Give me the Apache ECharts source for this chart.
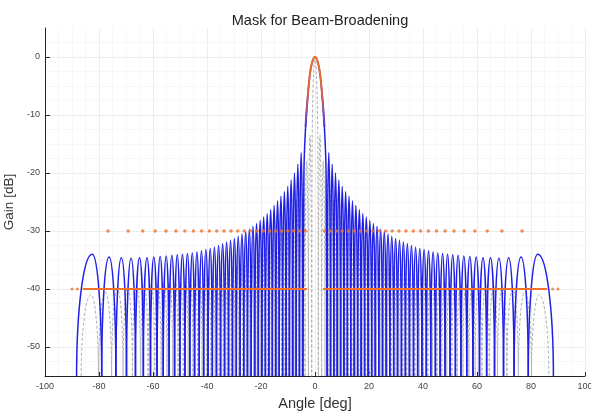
<!DOCTYPE html>
<html>
<head>
<meta charset="utf-8">
<script src="https://cdn.jsdelivr.net/npm/echarts@6/dist/echarts.min.js"></script>
<style>
html, body { margin: 0; padding: 0; background: #fff; }
#chart { width: 591px; height: 412px; }
</style>
</head>
<body>
<div id="chart"></div>
<script>
// values, right half (deg / dB); the pattern is symmetric about 0
const NULL_DB = -57 // main-lobe nulls drop below the axis floor

// broadened beam (blue)
const blueMainAngles = [0, 1.0, 1.9, 3.0, 3.7, 4.1, 4.5]
const blueMainGain = [0, -0.8, -3, -8.6, -14, -20, NULL_DB]
const blueNulls = [4.5, 5.74, 6.98, 8.22, 9.47, 10.72, 11.98, 13.24, 14.51, 15.78,
  17.07, 18.36, 19.66, 20.98, 22.30, 23.64, 24.99, 26.36, 27.74, 29.14,
  30.56, 32.01, 33.47, 34.96, 36.48, 38.02, 39.61, 41.22, 42.88, 44.59,
  46.35, 48.16, 50.04, 52.00, 54.05, 56.21, 58.50, 60.93, 63.57, 66.49,
  69.82, 73.74, 79.0, 88.3]
const bluePeakAngles = [5.12, 6.36, 7.60, 8.84, 10.09, 11.35, 12.61, 13.87, 15.14, 16.42,
  17.71, 19.01, 20.32, 21.64, 22.97, 24.31, 25.67, 27.05, 28.44, 29.85,
  31.28, 32.74, 34.21, 35.72, 37.25, 38.81, 40.41, 42.05, 43.73, 45.46,
  47.25, 49.10, 51.01, 53.01, 55.12, 57.34, 59.70, 62.23, 64.99, 68.11,
  71.71, 76.3, 82.5]
const bluePeakGain = [-16.5, -18.5, -20, -21.2, -22.3, -23.2, -24, -24.8, -25.6, -26.3,
  -27, -27.6, -28.2, -28.7, -29.2, -29.7, -30.1, -30.5, -30.9, -31.3,
  -31.6, -31.9, -32.2, -32.5, -32.8, -33.0, -33.2, -33.4, -33.6, -33.8,
  -33.9, -34.0, -34.1, -34.2, -34.3, -34.4, -34.5, -34.6, -34.6, -34.7,
  -34.6, -34.5, -34.0]

// original beam (grey dashed)
const greyMainAngles = [0, 0.55, 0.85, 1.05, 1.23]
const greyMainGain = [0, -3, -8, -15, NULL_DB]
const greyNulls = [1.23, 2.46, 3.70, 4.93, 6.17, 7.41, 8.66, 9.90, 11.16, 12.42,
  13.68, 14.95, 16.23, 17.52, 18.81, 20.12, 21.44, 22.77, 24.11, 25.47,
  26.84, 28.23, 29.64, 31.06, 32.52, 33.99, 35.49, 37.01, 38.57, 40.16,
  41.80, 43.47, 45.19, 46.97, 48.81, 50.72, 52.70, 54.78, 56.98, 59.32,
  61.83, 64.56, 67.60, 71.08, 75.35, 80.2, 86.6]
const greyPeakAngles = [1.85, 3.08, 4.32, 5.55, 6.79, 8.04, 9.28, 10.53, 11.79, 13.05,
  14.32, 15.59, 16.87, 18.16, 19.46, 20.78, 22.10, 23.44, 24.79, 26.15,
  27.53, 28.93, 30.35, 31.79, 33.25, 34.74, 36.25, 37.79, 39.36, 40.98,
  42.63, 44.33, 46.08, 47.89, 49.76, 51.71, 53.74, 55.88, 58.15, 60.57,
  63.19, 66.08, 69.34, 73.2, 77.7, 83.0]
const greyPeakGain = [-13.5, -17.9, -20.8, -23.0, -24.7, -26.1, -27.4, -28.4, -29.3, -30.2,
  -30.9, -31.6, -32.2, -32.8, -33.3, -33.8, -34.3, -34.7, -35.1, -35.5,
  -35.8, -36.1, -36.4, -36.7, -37.0, -37.2, -37.5, -37.7, -37.9, -38.0,
  -38.2, -38.4, -38.5, -38.6, -38.8, -38.9, -39.0, -39.0, -39.1, -39.2,
  -39.3, -39.5, -39.7, -40.0, -40.5, -41.0]

// mask (orange)
const maskMainAngles = [0, 1.0, 1.9, 3.0, 3.5]
const maskMainGain = [0, -0.8, -3, -8.6, -12]
const mask30Level = -30
const mask30Angles = [3.5, 5.7, 7.9, 10.1, 12.3, 14.5, 16.8, 19.1, 21.4, 23.8,
  26.2, 28.6, 31.1, 33.7, 36.4, 39.1, 42.0, 45.0, 48.2, 51.5,
  55.2, 59.2, 63.8, 69.2, 76.7]
const mask40Level = -40
const mask40Line = [3, 86]
const mask40Dots = [88, 90]

function mirror(half) {
  const left = half.filter(p => p[0] > 0).map(p => [-p[0], p[1]]).reverse()
  return left.concat(half)
}
// one item per side lobe: [left null, peak angle, right null, peak gain]
function lobes(nulls, peakA, peakG) {
  const right = peakA.map((p, i) => [nulls[i], p, nulls[i + 1], peakG[i]])
  const left = right.map(d => [-d[2], -d[1], -d[0], d[3]])
  return left.concat(right)
}

const blueMainData = mirror(blueMainAngles.map((a, i) => [a, blueMainGain[i]]))
const greyMainData = mirror(greyMainAngles.map((a, i) => [a, greyMainGain[i]]))
const blueLobeData = lobes(blueNulls, bluePeakAngles, bluePeakGain)
const greyLobeData = lobes(greyNulls, greyPeakAngles, greyPeakGain)
const maskMainData = mirror(maskMainAngles.map((a, i) => [a, maskMainGain[i]]))
const mask30Data = mirror(mask30Angles.map(a => [a, mask30Level]))
const mask40Data = [[-mask40Line[1], mask40Level], [-mask40Line[0], mask40Level], [0, '-'],
  [mask40Line[0], mask40Level], [mask40Line[1], mask40Level]]
const mask40DotData = mirror(mask40Dots.map(a => [a, mask40Level]))

const blue = '#1f1fe6'
const grey = '#b0b0b0'
const orange = '#f0702c'

// a side lobe drawn as an arch: steep at the nulls, flat at the peak
function archRenderer(color, width, dash) {
  return function (params, api) {
    const l = api.coord([api.value(0), api.value(3)])
    const p = api.coord([api.value(1), api.value(3)])
    const r = api.coord([api.value(2), api.value(3)])
    const base = params.coordSys.y + params.coordSys.height
    const top = p[1]
    const k = 0.55
    const h = base - top
    const d = 'M' + l[0] + ',' + base +
      'C' + l[0] + ',' + (base - k * h) + ' ' + (p[0] - k * (p[0] - l[0])) + ',' + top + ' ' + p[0] + ',' + top +
      'C' + (p[0] + k * (r[0] - p[0])) + ',' + top + ' ' + r[0] + ',' + (base - k * h) + ' ' + r[0] + ',' + base
    return {
      type: 'path',
      shape: { pathData: d },
      style: { fill: 'none', stroke: color, lineWidth: width, lineDash: dash }
    }
  }
}

const chart = echarts.init(document.getElementById('chart'))

const option = {
  animation: false,
  backgroundColor: '#fff',
  title: {
    text: 'Mask for Beam-Broadening',
    left: 315,
    top: 8,
    textAlign: 'center',
    textStyle: { fontFamily: 'Liberation Sans', fontSize: 14.5, fontWeight: 'normal', color: '#222' }
  },
  grid: { left: 45, right: 6, top: 28, bottom: 36, containLabel: false, outerBoundsMode: 'none' },
  xAxis: {
    type: 'value',
    min: -100,
    max: 100,
    interval: 20,
    name: 'Angle [deg]',
    nameLocation: 'middle',
    nameGap: 20,
    nameTextStyle: { fontFamily: 'Liberation Sans', fontSize: 14.5, color: '#333' },
    axisLine: { onZero: false, lineStyle: { color: '#222', width: 1 } },
    axisTick: { inside: true, length: 4, lineStyle: { color: '#222' } },
    axisLabel: { fontFamily: 'Liberation Sans', fontSize: 9, color: '#444', margin: 6 },
    splitLine: { show: true, lineStyle: { color: '#ededed', width: 1 } },
    minorTick: { show: false, splitNumber: 4 },
    minorSplitLine: { show: true, lineStyle: { color: '#f7f7f7', width: 1 } }
  },
  yAxis: {
    type: 'value',
    min: -55,
    max: 5,
    name: 'Gain [dB]',
    nameLocation: 'middle',
    nameGap: 23,
    nameTextStyle: { fontFamily: 'Liberation Sans', fontSize: 13.5, color: '#333' },
    axisLine: { onZero: false, lineStyle: { color: '#222', width: 1 } },
    axisTick: { inside: true, length: 5, lineStyle: { color: '#222' }, customValues: [-50, -40, -30, -20, -10, 0] },
    axisLabel: { fontFamily: 'Liberation Sans', fontSize: 9, color: '#444', margin: 5, customValues: [-50, -40, -30, -20, -10, 0] },
    splitLine: { show: true, lineStyle: { color: '#ededed', width: 1 } },
    minorTick: { show: false, splitNumber: 4 },
    minorSplitLine: { show: true, lineStyle: { color: '#f7f7f7', width: 1 } }
  },
  series: [
    {
      name: 'original lobes',
      type: 'custom',
      data: greyLobeData,
      encode: { x: [0, 1, 2], y: 3 },
      renderItem: archRenderer(grey, 1, [3, 2]),
      z: 1
    },
    {
      name: 'original main',
      type: 'line',
      data: greyMainData,
      smooth: 0.3,
      symbol: 'none',
      lineStyle: { color: grey, width: 1, type: [3, 2] },
      z: 1
    },
    {
      name: 'broadened lobes',
      type: 'custom',
      data: blueLobeData,
      encode: { x: [0, 1, 2], y: 3 },
      renderItem: archRenderer(blue, 1.5),
      z: 2
    },
    {
      name: 'broadened main',
      type: 'line',
      data: blueMainData,
      smooth: 0.3,
      symbol: 'none',
      lineStyle: { color: blue, width: 1.5 },
      z: 2
    },
    {
      name: 'mask -40',
      type: 'line',
      data: mask40Data,
      symbol: 'none',
      lineStyle: { color: orange, width: 2 },
      z: 3
    },
    {
      name: 'mask -40 ends',
      type: 'scatter',
      data: mask40DotData,
      symbolSize: 3,
      itemStyle: { color: orange },
      z: 3
    },
    {
      name: 'mask -30',
      type: 'scatter',
      data: mask30Data,
      symbolSize: 3.5,
      itemStyle: { color: orange },
      z: 4
    },
    {
      name: 'mask main',
      type: 'line',
      data: maskMainData,
      smooth: 0.3,
      symbol: 'none',
      lineStyle: {
        width: 2,
        color: new echarts.graphic.LinearGradient(0, 0, 0, 1, [
          { offset: 0, color: orange },
          { offset: 0.5, color: '#e0603c' },
          { offset: 0.8, color: '#9048b0' },
          { offset: 1, color: '#3a3ae0' }
        ])
      },
      z: 5
    }
  ]
}

chart.setOption(option)
</script>
</body>
</html>
